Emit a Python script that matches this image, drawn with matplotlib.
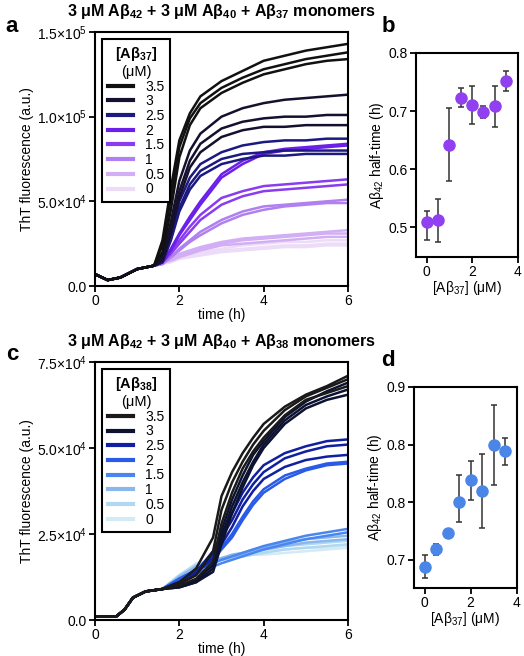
import numpy as np
import matplotlib
matplotlib.use('Agg')
import matplotlib.pyplot as plt
from matplotlib.lines import Line2D

plt.rcParams['font.family'] = ['Liberation Sans', 'DejaVu Sans']
plt.rcParams['mathtext.fontset'] = 'custom'
plt.rcParams['mathtext.rm'] = 'Liberation Sans'
plt.rcParams['mathtext.it'] = 'Liberation Sans:italic'
plt.rcParams['mathtext.bf'] = 'Liberation Sans:bold'

# ---------------- panel a data (ThT, x1e3) ----------------
time_a = [0, 0.3, 0.6, 1.0, 1.4, 1.6, 1.8, 2.0, 2.25, 2.5, 3.0, 3.5, 4.0, 4.5, 5.0, 5.5, 6.0]
base_a = [7, 3.5, 5, 10, 12]
conc = ['3.5', '3', '2.5', '2', '1.5', '1', '0.5', '0']
curves_a_35 = [[27, 58, 86, 102, 112, 121, 127, 133, 136, 139, 141, 143],
               [24, 52, 82, 99, 108, 117, 123, 128, 131, 134, 136, 138],
               [20, 45, 76, 95, 105, 114, 120, 125, 128, 131, 133, 134]]
curves_a_3 = [[18, 38, 62, 80, 90, 100, 105, 108, 110, 111, 112, 113],
              [16, 34, 56, 74, 84, 93, 97, 99, 100, 100, 101, 101],
              [15, 31, 52, 70, 79, 88, 92, 94, 94, 95, 95, 95]]
curves_a_25 = [[15, 30, 50, 64, 72, 79, 83, 85, 86, 86, 87, 87],
               [14, 28, 46, 60, 68, 75, 78, 79, 80, 80, 80, 80],
               [14, 27, 44, 57, 65, 72, 75, 77, 77, 78, 78, 78]]
curves_a_2 = [[14, 22, 31, 41, 50, 66, 74, 79, 81, 82, 83, 84],
              [14, 21, 30, 39, 48, 64, 72, 78, 80, 81, 82, 83]]
curves_a_15 = [[14, 20, 27, 35, 42, 52, 56, 59, 60, 61, 62, 63],
               [14, 19, 25, 32, 39, 48, 53, 56, 57, 58, 59, 60]]
curves_a_1 = [[13, 17, 22, 27, 32, 39, 44, 47, 48, 49, 50, 51],
              [13, 17, 21, 26, 30, 37, 42, 45, 47, 48, 49, 49]]
curves_a_05 = [[14, 16, 19, 21, 23, 26, 28, 29, 30, 31, 32, 33],
               [14, 16, 18, 20, 22, 25, 27, 28, 29, 30, 31, 31],
               [14, 15, 17, 19, 21, 24, 25, 26, 27, 28, 29, 29]]
curves_a_0 = [[14, 15, 17, 19, 20, 22, 24, 25, 26, 26, 27, 27],
              [13, 15, 16, 18, 19, 21, 22, 23, 24, 24, 25, 25],
              [13, 14, 16, 17, 18, 20, 21, 22, 23, 23, 24, 24]]
colors_a = ['#111111', '#15102e', '#1c1a80', '#6a20e8', '#8a3cf0', '#b07ff0', '#d2aef5', '#ecdcf8']

# ---------------- panel c data (ThT, x1e3) ----------------
time_c = [0, 0.5, 0.7, 0.9, 1.2, 1.6, 2.0, 2.4, 2.8, 3.0, 3.25, 3.5, 3.75, 4.0, 4.5, 5.0, 5.5, 6.0]
base_c = [1, 1, 3, 6.5, 8.3, 9]
curves_c_35 = [[11, 15, 24, 36, 43, 48.5, 53, 57, 62, 65.5, 68, 71],
               [10.5, 13, 20, 32, 40, 46, 51, 55, 61, 65, 67.5, 70],
               [10, 12, 17, 28, 37, 44, 49, 53, 59.5, 64, 66, 68]]
curves_c_3 = [[10, 11.5, 16, 26, 35, 42, 48, 52, 59, 63.5, 66.5, 69],
              [9.5, 11, 15, 24, 33, 40, 46, 51, 58, 62.5, 65, 67],
              [9.5, 11, 14, 22, 31, 38.5, 45, 50, 57, 61.5, 64, 65.5]]
curves_c_25 = [[11, 14, 20, 25, 31, 37, 41.5, 45, 48.5, 50.5, 52, 52.5],
               [11, 14, 19, 24, 29, 35, 39.5, 43, 47, 49, 50.5, 51],
               [11, 13.5, 18, 22, 27, 33, 37.5, 41, 44.5, 46.5, 47.5, 48]]
curves_c_2 = [[12, 14.5, 18, 21, 25, 30, 34.5, 38, 42, 44, 45.5, 46],
              [12, 14.5, 17.5, 20.5, 24, 29, 33.5, 37, 41, 43.5, 45, 45.5]]
curves_c_15 = [[12, 14.5, 16.5, 17.5, 18.5, 19.5, 20.5, 21.5, 23, 24.5, 25.5, 26.5],
               [11.5, 13.5, 15.5, 16.5, 17.5, 18.5, 19.5, 20.5, 22, 23.5, 24.5, 25.5]]
curves_c_1 = [[12.5, 15.5, 17, 18, 19, 19.5, 20.5, 21, 22.5, 23.5, 24, 24.5],
              [12.5, 15.5, 17, 17.5, 18.5, 19, 20, 20.5, 21.5, 22.5, 23, 23.5]]
curves_c_05 = [[13, 16, 17.5, 18, 18.5, 19.5, 20, 20.5, 21.5, 22, 22.5, 23],
               [13, 16, 17, 17.5, 18, 18.5, 19, 19.5, 20.5, 21, 21.5, 22]]
curves_c_0 = [[13, 16.5, 17.5, 18, 18.5, 19, 19.5, 20, 20.5, 21, 21, 21.5],
              [12.5, 16, 17, 17.5, 18, 18.5, 19, 19, 19.5, 20, 20.5, 21]]
colors_c = ['#1a1a1a', '#0c1230', '#1020a0', '#2a5ae8', '#4a86f0', '#8ab8ec', '#b0d8f2', '#d4eaf4']

# ---------------- half-times ----------------
conc_ht = [0, 0.5, 1, 1.5, 2, 2.5, 3, 3.5]
ht_b = [0.509, 0.512, 0.642, 0.723, 0.710, 0.699, 0.708, 0.751]
ht_b_lo = [0.479, 0.475, 0.579, 0.707, 0.677, 0.689, 0.672, 0.735]
ht_b_hi = [0.529, 0.549, 0.705, 0.739, 0.743, 0.709, 0.744, 0.769]
ht_d = [0.744, 0.759, 0.7735, 0.800, 0.8195, 0.810, 0.8494, 0.8445]
ht_d_lo = [0.734, 0.754, 0.771, 0.783, 0.802, 0.778, 0.815, 0.832]
ht_d_hi = [0.754, 0.764, 0.776, 0.824, 0.836, 0.842, 0.884, 0.856]

fig = plt.figure(figsize=(5.24, 6.56), dpi=100)
W, H = 524, 656


def axes_px(l, t, r, b):
    return fig.add_axes([l / W, 1 - b / H, (r - l) / W, (b - t) / H])


def style(ax):
    for s in ax.spines.values():
        s.set_linewidth(1.5)
    ax.tick_params(width=1.3, length=4, labelsize=10, pad=2)


def kinetics(ax, t, base, groups, colors, ymax, yticks, ylabels, title):
    # low concentrations first so the dark curves sit on top
    for grp, col in list(zip(groups, colors))[::-1]:
        for vals in grp:
            y = np.array(base + vals) * 1e3
            ax.plot(t, y, color=col, lw=1.8, solid_capstyle='round')
    ax.set_xlim(0, 6)
    ax.set_ylim(0, ymax)
    ax.set_xticks([0, 2, 4, 6])
    ax.set_yticks(yticks)
    ax.set_yticklabels(ylabels)
    ax.set_xlabel('time (h)', fontsize=10, labelpad=0)
    ax.set_ylabel('ThT fluorescence (a.u.)', fontsize=10, labelpad=2)
    style(ax)
    handles = [Line2D([], [], color=c, lw=3) for c in colors]
    leg = ax.legend(handles, conc, loc='upper left', bbox_to_anchor=(0.028, 0.972),
                    borderaxespad=0, title=title, fontsize=10, title_fontsize=10.5,
                    labelspacing=0.05, handlelength=1.8, handletextpad=0.9,
                    fancybox=False, framealpha=1, edgecolor='black')
    leg.get_title().set_multialignment('center')
    leg.get_frame().set_linewidth(1.5)


def halftime(ax, y, lo, hi, color, ylim, yticks, ylabels):
    y = np.array(y)
    err = [y - np.array(lo), np.array(hi) - y]
    ax.errorbar(conc_ht, y, yerr=err, fmt='o', color=color, ms=8, mec=color,
                ecolor='#333333', elinewidth=1.1, capsize=2.5, capthick=1.1, zorder=3)
    ax.set_xlim(-0.47, 4.02)
    ax.set_ylim(*ylim)
    ax.set_xticks([0, 2, 4])
    ax.set_yticks(yticks)
    ax.set_yticklabels(ylabels)
    ax.set_xlabel('[Aβ$_{37}$] (μM)', fontsize=10, labelpad=0)
    ax.set_ylabel('Aβ$_{42}$ half-time (h)', fontsize=10, labelpad=2)
    style(ax)


ax_a = axes_px(95, 32, 348, 286)
kinetics(ax_a, time_a, base_a,
         [curves_a_35, curves_a_3, curves_a_25, curves_a_2, curves_a_15, curves_a_1, curves_a_05, curves_a_0],
         colors_a, 1.5e5, [0, 5e4, 1e5, 1.5e5],
         ['0.0', '5.0×10$^4$', '1.0×10$^5$', '1.5×10$^5$'],
         '$\\mathbf{[Aβ_{37}]}$\n(μM)')

ax_c = axes_px(95, 362, 348, 620)
kinetics(ax_c, time_c, base_c,
         [curves_c_35, curves_c_3, curves_c_25, curves_c_2, curves_c_15, curves_c_1, curves_c_05, curves_c_0],
         colors_c, 7.5e4, [0, 2.5e4, 5e4, 7.5e4],
         ['0.0', '2.5×10$^4$', '5.0×10$^4$', '7.5×10$^4$'],
         '$\\mathbf{[Aβ_{38}]}$\n(μM)')

ax_b = axes_px(416, 53, 518, 257)
halftime(ax_b, ht_b, ht_b_lo, ht_b_hi, '#9040f0', (0.449, 0.8),
         [0.5, 0.6, 0.7, 0.8], ['0.5', '0.6', '0.7', '0.8'])

ax_d = axes_px(414, 387, 517, 588)
halftime(ax_d, ht_d, ht_d_lo, ht_d_hi, '#4a86e8', (0.7255, 0.9),
         [0.75, 0.8, 0.85, 0.9], ['0.7', '0.8', '0.8', '0.9'])

fig.text(0.422, 0.982, '3 μM Aβ$\\mathbf{_{42}}$ + 3 μM Aβ$\\mathbf{_{40}}$ + Aβ$\\mathbf{_{37}}$ monomers',
         ha='center', va='center', fontsize=11.5, fontweight='bold')
fig.text(0.422, 0.479, '3 μM Aβ$\\mathbf{_{42}}$ + 3 μM Aβ$\\mathbf{_{40}}$ + Aβ$\\mathbf{_{38}}$ monomers',
         ha='center', va='center', fontsize=11.5, fontweight='bold')
for lab, x, y in [('a', 12, 27), ('b', 388, 27), ('c', 12, 354), ('d', 388, 361)]:
    fig.text(x / W, 1 - y / H, lab, ha='center', va='center', fontsize=16, fontweight='bold')

fig.savefig('out.png', dpi=100)
